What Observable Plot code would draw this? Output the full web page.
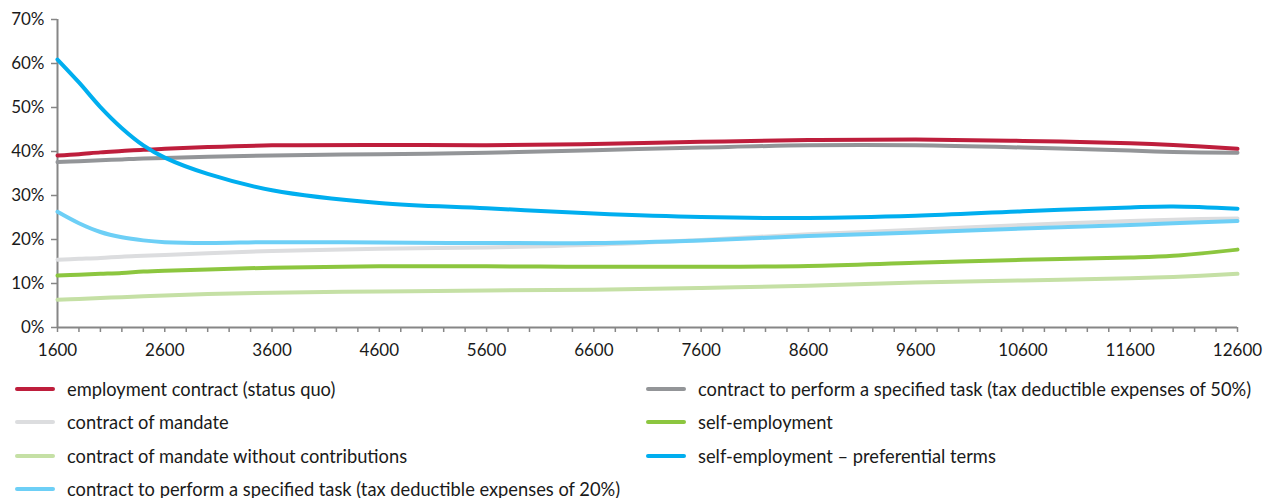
<!DOCTYPE html>
<html>
<head>
<meta charset="utf-8">
<script src="https://cdn.jsdelivr.net/npm/d3@7"></script>
<script src="https://cdn.jsdelivr.net/npm/@observablehq/plot@0.6"></script>
<style>
  html, body { margin: 0; padding: 0; background: #fff; }
  body { width: 1263px; height: 498px; overflow: hidden; font-family: Lato, "Open Sans", sans-serif; }
  #legend { position: relative; height: 133px; font-size: 18.3px; color: #1a1a1a; }
  .item { position: absolute; display: flex; align-items: center; height: 24px; white-space: nowrap; }
  .sw { width: 40px; height: 4px; border-radius: 2px; margin-right: 12px; }
</style>
</head>
<body>
<div id="chart"></div>
<div id="legend"></div>
<script>
// x values (income levels)
const xs = [1600, 1800, 2000, 2200, 2400, 2600, 3000, 3600, 4600, 5600, 6600, 7600, 8600, 9600, 10600, 11600, 12000, 12600];

// series values (%)
const employmentContract = [39.1, 39.4, 39.8, 40.1, 40.4, 40.6, 41.0, 41.4, 41.5, 41.4, 41.7, 42.2, 42.6, 42.7, 42.4, 41.9, 41.5, 40.6];
const specTask50 = [37.6, 37.8, 38.0, 38.2, 38.4, 38.5, 38.8, 39.1, 39.4, 39.7, 40.3, 40.9, 41.4, 41.4, 40.9, 40.2, 39.9, 39.7];
const mandate = [15.4, 15.6, 15.8, 16.1, 16.3, 16.5, 16.9, 17.4, 17.9, 18.2, 18.8, 19.9, 21.2, 22.2, 23.3, 24.2, 24.5, 24.8];
const selfEmployment = [11.8, 12.0, 12.2, 12.4, 12.7, 12.9, 13.2, 13.6, 13.9, 13.9, 13.8, 13.8, 14.0, 14.7, 15.4, 15.9, 16.3, 17.7];
const mandateNoContrib = [6.3, 6.5, 6.7, 6.9, 7.1, 7.3, 7.6, 7.9, 8.2, 8.4, 8.6, 9.0, 9.5, 10.2, 10.7, 11.2, 11.5, 12.2];
const selfEmploymentPref = [60.9, 55.7, 50.1, 45.3, 41.4, 38.6, 34.9, 31.2, 28.3, 27.1, 25.9, 25.1, 24.9, 25.4, 26.4, 27.3, 27.5, 27.0];
const specTask20 = [26.3, 23.7, 21.7, 20.5, 19.8, 19.4, 19.2, 19.4, 19.3, 19.2, 19.2, 19.8, 20.8, 21.6, 22.5, 23.3, 23.7, 24.2];

// tick values
const xTickLabels = [1600, 2600, 3600, 4600, 5600, 6600, 7600, 8600, 9600, 10600, 11600, 12600];
const xMinorTicks = d3.range(1600, 12601, 200);
const yTicks = [0, 10, 20, 30, 40, 50, 60, 70];

const series = [
  {name: "employment contract (status quo)", color: "#be1e3c", values: employmentContract},
  {name: "contract to perform a specified task (tax deductible expenses of 50%)", color: "#939598", values: specTask50},
  {name: "contract of mandate", color: "#dcdddf", values: mandate},
  {name: "self-employment", color: "#8cc63f", values: selfEmployment},
  {name: "contract of mandate without contributions", color: "#c5e0a5", values: mandateNoContrib},
  {name: "self-employment – preferential terms", color: "#00aeef", values: selfEmploymentPref},
  {name: "contract to perform a specified task (tax deductible expenses of 20%)", color: "#6dcff6", values: specTask20}
];

const drawOrder = [2, 4, 3, 6, 1, 0, 5];
const marks = [];
for (const i of drawOrder) {
  const s = series[i];
  const data = xs.map((x, j) => ({x, y: s.values[j]}));
  marks.push(Plot.line(data, {x: "x", y: "y", stroke: s.color, strokeWidth: 4, curve: "catmull-rom", strokeLinecap: "round"}));
}

const axisColor = "#868686";
const chart = Plot.plot({
  width: 1263,
  height: 365,
  marginLeft: 57,
  marginRight: 26,
  marginTop: 19,
  marginBottom: 38,
  style: {fontFamily: "Lato, 'Open Sans', sans-serif", fontSize: "17px", color: "#1a1a1a", background: "#fff"},
  x: {domain: [1600, 12600]},
  y: {domain: [0, 70]},
  marks: [
    Plot.axisX({ticks: xMinorTicks, tickSize: 5, stroke: axisColor, strokeWidth: 1.5, tickFormat: () => "", label: null}),
    Plot.axisX({ticks: xTickLabels, tickSize: 0, tickPadding: 16, tickFormat: d => String(d), label: null, fill: "#1a1a1a", fontSize: 17}),
    Plot.axisY({ticks: yTicks, tickSize: 6, tickPadding: 7, stroke: axisColor, strokeWidth: 1.5, tickFormat: d => d + "%", label: null, fill: "#1a1a1a", fontSize: 17}),
    Plot.ruleY([0], {stroke: axisColor, strokeWidth: 2}),
    Plot.ruleX([1600], {stroke: axisColor, strokeWidth: 2}),
    ...marks
  ]
});
document.getElementById("chart").appendChild(chart);

// legend
const legend = document.getElementById("legend");
const layout = [
  [0, 15, 24], [2, 15, 57], [4, 15, 90.5], [6, 15, 124],
  [1, 646, 24], [3, 646, 57], [5, 646, 90.5]
];
for (const [i, left, cy] of layout) {
  const s = series[i];
  const item = document.createElement("div");
  item.className = "item";
  item.style.left = left + "px";
  item.style.top = (cy - 12) + "px";
  const sw = document.createElement("div");
  sw.className = "sw";
  sw.style.background = s.color;
  const t = document.createElement("span");
  t.textContent = s.name;
  item.appendChild(sw);
  item.appendChild(t);
  legend.appendChild(item);
}
</script>
</body>
</html>
